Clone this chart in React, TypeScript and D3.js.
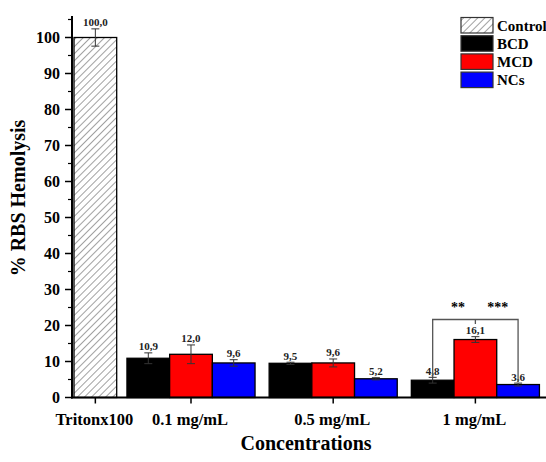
import React from 'react'
import * as d3 from 'd3'

// data
const categories = ['Tritonx100', '0.1 mg/mL', '0.5 mg/mL', '1 mg/mL']
const seriesNames = ['Control', 'BCD', 'MCD', 'NCs']
const seriesColors = ['url(#hatch)', '#000000', '#ff0000', '#0000ff']

const controlValue = 100.0
const controlError = 2.4

const bcdValues = [10.9, 9.5, 4.8]
const bcdErrors = [1.5, 0.3, 0.8]
const mcdValues = [12.0, 9.6, 16.1]
const mcdErrors = [2.6, 1.1, 0.8]
const ncsValues = [9.6, 5.2, 3.6]
const ncsErrors = [0.9, 0.3, 0.4]

const yTicks = [0, 10, 20, 30, 40, 50, 60, 70, 80, 90, 100]
const yMinorTicks = [5, 15, 25, 35, 45, 55, 65, 75, 85, 95, 105]

const fmt = (v: number) => v.toFixed(1).replace('.', ',')

export default function App() {
  const width = 546
  const height = 462
  const font = '"Liberation Serif", "Times New Roman", serif'

  const y = d3.scaleLinear().domain([0, 100]).range([397.5, 37.5])
  const yTop = y(106)

  // x in "bar slots": Triton bar at slot 0, groups follow with small gaps
  const x = d3.scaleLinear().domain([0, 1]).range([74, 116.7])
  const firstGap = 0.24
  const gap = 0.33
  const groupStart = (g: number) => 1 + firstGap + g * (3 + gap)

  type Bar = { series: number; value: number; err: number; slot: number }
  const bars: Bar[] = [{ series: 0, value: controlValue, err: controlError, slot: 0 }]
  const groupSeries = [bcdValues, mcdValues, ncsValues]
  const groupErrors = [bcdErrors, mcdErrors, ncsErrors]
  for (let g = 0; g < 3; g++) {
    for (let s = 0; s < 3; s++) {
      bars.push({ series: s + 1, value: groupSeries[s][g], err: groupErrors[s][g], slot: groupStart(g) + s })
    }
  }

  const catCenters = [x(0.5), ...[0, 1, 2].map(g => x(groupStart(g) + 1.5))]

  // significance bracket in the 1 mg/mL group
  const bLeft = x(groupStart(2) + 0.5)
  const bMid = x(groupStart(2) + 1.5)
  const bRight = x(groupStart(2) + 2.5)
  const bTop = 319.5

  const legendX = 461
  const legendY = 17.5
  const legendStep = 18.2

  return (
    <svg width={width} height={height} style={{ position: 'absolute', left: 0, top: 0, background: '#fff' }}>
      <defs>
        <pattern id="hatch" patternUnits="userSpaceOnUse" width="5" height="5" patternTransform="rotate(45)">
          <rect width="5" height="5" fill="#fff" />
          <line x1="0" y1="0" x2="0" y2="5" stroke="#444" strokeWidth="1" />
        </pattern>
      </defs>

      {/* bars */}
      {bars.map((b, i) => (
        <rect
          key={i}
          x={x(b.slot)}
          y={y(b.value)}
          width={x(b.slot + 1) - x(b.slot)}
          height={y(0) - y(b.value)}
          fill={seriesColors[b.series]}
          stroke="#000"
          strokeWidth={1.3}
        />
      ))}

      {/* error bars and value labels */}
      {bars.map((b, i) => {
        const cx = x(b.slot + 0.5)
        const top = y(b.value + b.err)
        const bot = y(b.value - b.err)
        return (
          <g key={i}>
            <line x1={cx} x2={cx} y1={top} y2={bot} stroke="#333" strokeWidth={1} />
            <line x1={cx - 4} x2={cx + 4} y1={top} y2={top} stroke="#333" strokeWidth={1} />
            <line x1={cx - 4} x2={cx + 4} y1={bot} y2={bot} stroke="#333" strokeWidth={1} />
            <text x={cx} y={top - 2.5} textAnchor="middle" fontFamily={font} fontWeight="bold" fontSize={11} fill="#222">
              {fmt(b.value)}
            </text>
          </g>
        )
      })}

      {/* bracket */}
      <path
        d={`M${bLeft},377 V${bTop} H${bRight} V382 M${bMid},${bTop} V324`}
        fill="none"
        stroke="#555"
        strokeWidth={1.3}
      />
      <text x={(bLeft + bMid) / 2 + 4} y={311.5} textAnchor="middle" fontFamily={font} fontWeight="bold" fontSize={14}>**</text>
      <text x={(bMid + bRight) / 2 + 1} y={311.5} textAnchor="middle" fontFamily={font} fontWeight="bold" fontSize={14}>***</text>

      {/* y axis */}
      <line x1={72} x2={72} y1={yTop} y2={y(0) + 1} stroke="#000" strokeWidth={2} />
      {yTicks.map(t => (
        <g key={t}>
          <line x1={65} x2={72} y1={y(t)} y2={y(t)} stroke="#000" strokeWidth={1.5} />
          <text x={60} y={y(t)} dy="0.34em" textAnchor="end" fontFamily={font} fontWeight="bold" fontSize={16}>
            {t}
          </text>
        </g>
      ))}
      {yMinorTicks.map(t => (
        <line key={t} x1={68} x2={72} y1={y(t)} y2={y(t)} stroke="#000" strokeWidth={1.2} />
      ))}

      {/* x axis */}
      <line x1={71} x2={546} y1={y(0)} y2={y(0)} stroke="#000" strokeWidth={2} />
      {categories.map((c, i) => (
        <g key={c}>
          <line x1={catCenters[i]} x2={catCenters[i]} y1={y(0)} y2={y(0) + 6} stroke="#000" strokeWidth={1.5} />
          <text x={catCenters[i] - 1} y={424.5} textAnchor="middle" fontFamily={font} fontWeight="bold" fontSize={16.5}>
            {c}
          </text>
        </g>
      ))}

      {/* axis titles */}
      <text x={306} y={450} textAnchor="middle" fontFamily={font} fontWeight="bold" fontSize={20}>Concentrations</text>
      <text
        transform="translate(25, 198) rotate(-90)"
        textAnchor="middle"
        fontFamily={font}
        fontWeight="bold"
        fontSize={20}
      >
        % RBS Hemolysis
      </text>

      {/* legend */}
      {seriesNames.map((s, i) => (
        <g key={s}>
          <rect
            x={legendX}
            y={legendY + i * legendStep}
            width={32}
            height={15.5}
            fill={seriesColors[i]}
            stroke="#333"
            strokeWidth={1.2}
          />
          <text x={legendX + 36} y={legendY + i * legendStep + 8} dy="0.35em" fontFamily={font} fontWeight="bold" fontSize={15}>
            {s}
          </text>
        </g>
      ))}
    </svg>
  )
}
